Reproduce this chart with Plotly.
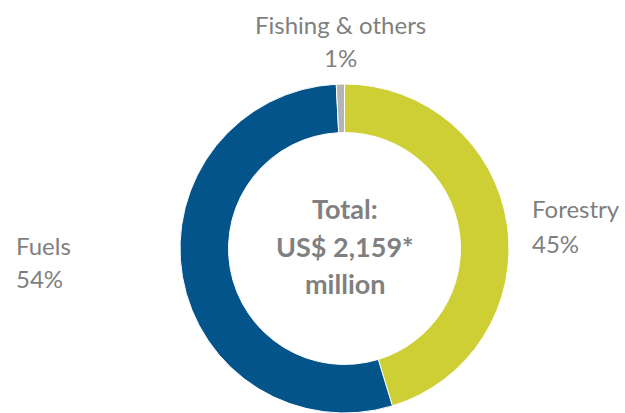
import plotly.graph_objects as go

W, H = 625, 413

categories = ["Forestry", "Fuels", "Fishing & others"]
values = [45.3, 53.9, 0.8]
pct_labels = ["45%", "54%", "1%"]
colors = ["#CDCF34", "#02548B", "#B4B4B4"]
center_lines = ["Total:", "US$ 2,159*", "million"]

fig = go.Figure(go.Pie(
    labels=categories,
    values=values,
    sort=False,
    direction="clockwise",
    rotation=0,
    hole=0.705,
    textinfo="none",
    hoverinfo="label+percent",
    marker=dict(colors=colors, line=dict(color="white", width=1)),
    domain=dict(x=[178 / W, 511 / W], y=[0, (H - 84) / H]),
    showlegend=False,
))

font_face = "Lato, Open Sans, sans-serif"
grey = "#7F7F7F"

def px_to_paper(xpx, ypx):
    return xpx / W, 1 - ypx / H

ann = []
# outer labels: x px, y px of name line, y px of percent line, anchor
label_pos = {
    "Forestry": (530, 209, 243, "left"),
    "Fuels": (14, 245, 278, "left"),
    "Fishing & others": (340, 24, 57, "center"),
}
for cat, pct in zip(categories, pct_labels):
    xpx, y1, y2, anchor = label_pos[cat]
    for txt, ypx in ((cat, y1), (pct, y2)):
        x, y = px_to_paper(xpx, ypx)
        ann.append(dict(
            x=x, y=y, xref="paper", yref="paper",
            text=txt, showarrow=False,
            xanchor=anchor, yanchor="middle", align=anchor,
            font=dict(family=font_face, size=24, color=grey),
        ))

for line, ypx in zip(center_lines, (209, 246, 283)):
    x, y = px_to_paper(345, ypx)
    ann.append(dict(
        x=x, y=y, xref="paper", yref="paper",
        text="<b>" + line + "</b>", showarrow=False,
        xanchor="center", yanchor="middle", align="center",
        font=dict(family=font_face, size=27, color="#808080"),
    ))

fig.update_layout(
    width=W, height=H,
    margin=dict(l=0, r=0, t=0, b=0),
    paper_bgcolor="white", plot_bgcolor="white",
    annotations=ann,
)

fig.write_html("out.html")
